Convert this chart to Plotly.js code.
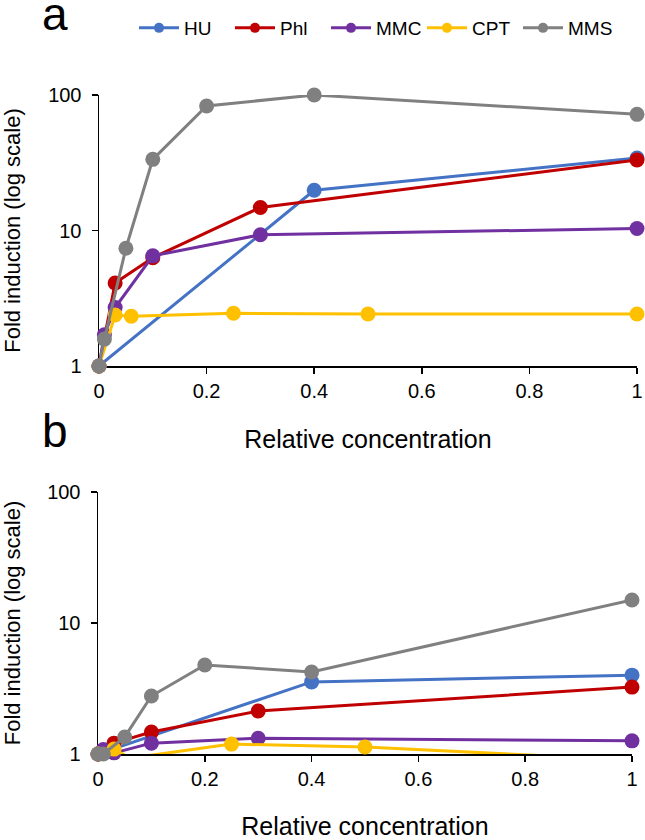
<!DOCTYPE html>
<html><head><meta charset="utf-8">
<script src="https://cdn.plot.ly/plotly-3.0.1.min.js"></script>
<style>html,body{margin:0;padding:0;background:#fff}</style>
</head><body><div id="chart" style="width:645px;height:840px"></div>
<script>
// ---------- data ----------
const seriesNames = ['HU', 'Phl', 'MMC', 'CPT', 'MMS'];

// Panel a
const aHU_x  = [0, 0.4, 1];
const aHU_y  = [1, 19.8, 34.3];
const aPhl_x = [0, 0.03, 0.1, 0.3, 1];
const aPhl_y = [1, 4.1, 6.3, 14.8, 33.2];
const aMMC_x = [0, 0.01, 0.03, 0.1, 0.3, 1];
const aMMC_y = [1, 1.7, 2.7, 6.5, 9.3, 10.35];
const aCPT_x = [0, 0.03, 0.06, 0.25, 0.5, 1];
const aCPT_y = [1, 2.38, 2.33, 2.45, 2.42, 2.42];
const aMMS_x = [0, 0.01, 0.05, 0.1, 0.2, 0.4, 1];
const aMMS_y = [1, 1.58, 7.4, 33.5, 83, 100, 72];

// Panel b
const bHU_x  = [0, 0.4, 1];
const bHU_y  = [1, 3.55, 4.0];
const bPhl_x = [0, 0.03, 0.1, 0.3, 1];
const bPhl_y = [1, 1.21, 1.47, 2.13, 3.24];
const bMMC_x = [0, 0.01, 0.03, 0.1, 0.3, 1];
const bMMC_y = [1, 1.08, 1.02, 1.21, 1.32, 1.26];
const bCPT_x = [0, 0.03, 0.06, 0.25, 0.5, 1];
const bCPT_y = [1, 1.09, 0.93, 1.19, 1.13, 0.9];
const bMMS_x = [0, 0.01, 0.05, 0.1, 0.2, 0.4, 1];
const bMMS_y = [1, 1.0, 1.35, 2.77, 4.78, 4.23, 15.0];

const xTickVals = [0, 0.2, 0.4, 0.6, 0.8, 1];
const xTickText = ['0', '0.2', '0.4', '0.6', '0.8', '1'];
const yTickVals = [1, 10, 100];
const yTickText = ['1', '10', '100'];
const xTitle = 'Relative concentration';
const yTitle = 'Fold induction (log scale)';

// ---------- styles ----------
const colors = ['#4472C4', '#C00000', '#7030A0', '#FFC000', '#808080'];
const FONT = 'Liberation Sans, Arial, sans-serif';

const panelA = [[aHU_x, aHU_y], [aPhl_x, aPhl_y], [aMMC_x, aMMC_y], [aCPT_x, aCPT_y], [aMMS_x, aMMS_y]];
const panelB = [[bHU_x, bHU_y], [bPhl_x, bPhl_y], [bMMC_x, bMMC_y], [bCPT_x, bCPT_y], [bMMS_x, bMMS_y]];

const traces = [];
function addPanel(panel, xa, ya) {
  panel.forEach((d, i) => {
    traces.push({
      type: 'scatter', mode: 'lines+markers',
      x: d[0], y: d[1], xaxis: xa, yaxis: ya,
      name: seriesNames[i], showlegend: false,
      line: {color: colors[i], width: 3},
      marker: {color: colors[i], size: 15},
      cliponaxis: false
    });
  });
}
addPanel(panelA, 'x', 'y');
addPanel(panelB, 'x2', 'y2');
// legend entries
seriesNames.forEach((n, i) => {
  traces.push({
    type: 'scatter', mode: 'lines+markers', x: [null], y: [null],
    xaxis: 'x', yaxis: 'y', name: n, showlegend: true,
    line: {color: colors[i], width: 3}, marker: {color: colors[i], size: 10}
  });
});

const W = 645, H = 840;
function xax(d0, d1, anchor) {
  return {
    domain: [d0 / W, d1 / W], range: [0, 1], anchor: anchor,
    tickmode: 'array', tickvals: xTickVals, ticktext: xTickText,
    showline: true, linecolor: '#000', linewidth: 1.5,
    ticks: 'outside', ticklen: 6, tickwidth: 1.5, tickcolor: '#000',
    showgrid: false, zeroline: false, layer: 'below traces',
    tickfont: {family: FONT, size: 20, color: '#000'},
    title: {text: xTitle, font: {family: FONT, size: 25, color: '#000'}, standoff: 30}
  };
}
function yax(p0, p1, anchor) {
  return {
    domain: [1 - p0 / H, 1 - p1 / H], type: 'log', range: [0, 2], anchor: anchor,
    tickmode: 'array', tickvals: yTickVals, ticktext: yTickText,
    showline: true, linecolor: '#000', linewidth: 1.5,
    ticks: 'outside', ticklen: 6, tickwidth: 1.5, tickcolor: '#000',
    showgrid: false, zeroline: false, layer: 'below traces',
    tickfont: {family: FONT, size: 20, color: '#000'},
    ticklabelstandoff: 6,
    title: {text: yTitle, font: {family: FONT, size: 22, color: '#000'}, standoff: 33}
  };
}

const layout = {
  width: W, height: H,
  margin: {l: 0, r: 0, t: 0, b: 0, autoexpand: false},
  paper_bgcolor: '#fff', plot_bgcolor: '#fff',
  font: {family: FONT, color: '#000'},
  xaxis: xax(99, 637, 'y'),
  yaxis: yax(366, 95, 'x'),
  xaxis2: xax(98, 632, 'y2'),
  yaxis2: yax(754, 492, 'x2'),
  showlegend: true,
  legend: {
    orientation: 'h', x: 134 / W, y: 1 - 28 / H, xanchor: 'left', yanchor: 'middle',
    font: {family: FONT, size: 19, color: '#000'},
    entrywidth: 41, entrywidthmode: 'pixels', itemwidth: 40,
    bgcolor: 'rgba(0,0,0,0)'
  },
  annotations: [
    {text: 'a', xref: 'paper', yref: 'paper', x: 40 / W, y: 1 - 14 / H, xanchor: 'left', yanchor: 'middle',
     showarrow: false, font: {family: FONT, size: 46, color: '#000'}},
    {text: 'b', xref: 'paper', yref: 'paper', x: 40 / W, y: 1 - 431 / H, xanchor: 'left', yanchor: 'middle',
     showarrow: false, font: {family: FONT, size: 46, color: '#000'}}
  ]
};

Plotly.newPlot('chart', traces, layout, {displayModeBar: false, staticPlot: true});
</script>
</body></html>
